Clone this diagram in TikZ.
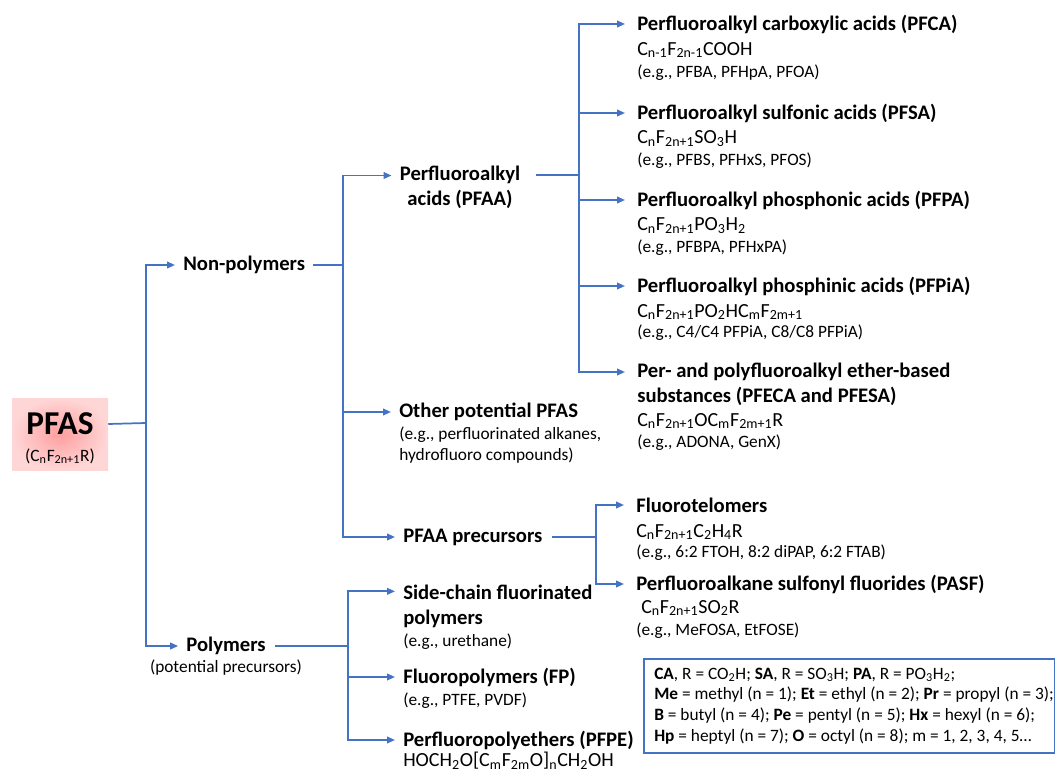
\documentclass[tikz,border=0pt]{standalone}
\usepackage{fontspec}
\setmainfont{Carlito}
\usetikzlibrary{arrows.meta,positioning}
\definecolor{treeblue}{RGB}{68,114,196}
\newcommand{\lo}[1]{\textsubscript{#1}}

\begin{document}
\begin{tikzpicture}[x=0.75pt,y=-0.75pt]
    \tikzstyle{head}=[anchor=west,inner sep=0pt,align=left,font=\fontsize{15.5}{18.8}\selectfont\bfseries]
    \tikzstyle{formula}=[anchor=west,inner sep=0pt,font=\fontsize{15}{18}\selectfont]
    \tikzstyle{eg}=[anchor=west,inner sep=0pt,align=left,font=\fontsize{13}{15.5}\selectfont]
    \tikzstyle{trunk}=[draw=treeblue,line width=1.3pt]
    \tikzstyle{link}=[trunk,-{Triangle[length=6pt,width=5pt]},shorten >=6pt]

    \useasboundingbox (0,0) rectangle (1056,773);

    % Root
    \node[inner sep=0pt,minimum width=72pt,minimum height=54pt,inner color=red!38,outer color=red!16] (pfas) at (60,434) {};
    \node[font=\fontsize{25}{30}\selectfont\bfseries] (pfasname) at (60,424) {PFAS};
    \node[font=\fontsize{13}{16}\selectfont] (pfasformula) at (60,456) {(C\lo{n}F\lo{2n+1}R)};

    % Non-polymers and polymers
    \coordinate (root) at (146,423);
    \node[head] (nonpoly) at (183,265) {Non-polymers};
    \node[head,anchor=center] (poly) at (226,646) {Polymers};
    \node[eg,anchor=center] (polynote) at (226,668) {(potential precursors)};
    \draw[trunk] (pfasname -| pfas.east) -- (root);
    \draw[link] (root) |- (nonpoly);
    \draw[link] (root) |- (poly);

    % Non-polymer classes
    \coordinate (npfork) at (343,265);
    \node[head,anchor=center,align=center] (pfaa) at (460,187) {Perfluoroalkyl\\acids (PFAA)};
    \node[head] (other) at (399,412) {Other potential PFAS};
    \node[eg] (othereg) at (399,445) {(e.g., perfluorinated alkanes,\\hydrofluoro compounds)};
    \node[head] (prec) at (403,537) {PFAA precursors};
    \draw[trunk] ([xshift=6pt]nonpoly.east) -- (npfork);
    \draw[link] (npfork) |- ([yshift=8.6pt]pfaa.west);
    \draw[link] (npfork) |- (other);
    \draw[link] (npfork) |- (prec);

    % Perfluoroalkyl acids
    \coordinate (acidfork) at (579,175);
    \node[head] (pfca) at (637,24) {Perfluoroalkyl carboxylic acids (PFCA)};
    \node[formula] (pfcaf) at (637,50) {C\lo{n-1}F\lo{2n-1}COOH};
    \node[eg] (pfcaeg) at (637,73) {(e.g., PFBA, PFHpA, PFOA)};
    \node[head] (pfsa) at (637,113) {Perfluoroalkyl sulfonic acids (PFSA)};
    \node[formula] (pfsaf) at (637,139) {C\lo{n}F\lo{2n+1}SO\lo{3}H};
    \node[eg] (pfsaeg) at (637,161) {(e.g., PFBS, PFHxS, PFOS)};
    \node[head] (pfpa) at (637,200) {Perfluoroalkyl phosphonic acids (PFPA)};
    \node[formula] (pfpaf) at (637,226) {C\lo{n}F\lo{2n+1}PO\lo{3}H\lo{2}};
    \node[eg] (pfpaeg) at (637,248) {(e.g., PFBPA, PFHxPA)};
    \node[head] (pfpia) at (637,286) {Perfluoroalkyl phosphinic acids (PFPiA)};
    \node[formula] (pfpiaf) at (637,312) {C\lo{n}F\lo{2n+1}PO\lo{2}HC\lo{m}F\lo{2m+1}};
    \node[eg] (pfpiaeg) at (637,333) {(e.g., C4/C4 PFPiA, C8/C8 PFPiA)};
    \node[head] (pfeca) at (637,384) {Per- and polyfluoroalkyl ether-based\\substances (PFECA and PFESA)};
    \node[formula] (pfecaf) at (637,421) {C\lo{n}F\lo{2n+1}OC\lo{m}F\lo{2m+1}R};
    \node[eg] (pfecaeg) at (637,443) {(e.g., ADONA, GenX)};
    \draw[trunk] ([xshift=12pt]pfaa.east |- acidfork) -- (acidfork);
    \draw[link,shorten >=9pt] (acidfork) |- (pfca);
    \draw[link,shorten >=9pt] (acidfork) |- (pfsa);
    \draw[link,shorten >=9pt] (acidfork) |- (pfpa);
    \draw[link,shorten >=9pt] (acidfork) |- (pfpia);
    \draw[link,shorten >=9pt] (acidfork) |- ([yshift=9pt]pfeca.west);

    % PFAA precursors
    \coordinate (precfork) at (596,537);
    \node[head] (ftel) at (636,505) {Fluorotelomers};
    \node[formula] (ftelf) at (636,532) {C\lo{n}F\lo{2n+1}C\lo{2}H\lo{4}R};
    \node[eg] (fteleg) at (636,553) {(e.g., 6:2 FTOH, 8:2 diPAP, 6:2 FTAB)};
    \node[head] (pasf) at (636,584) {Perfluoroalkane sulfonyl fluorides (PASF)};
    \node[formula] (pasff) at (641,608) {C\lo{n}F\lo{2n+1}SO\lo{2}R};
    \node[eg] (pasfeg) at (636,631) {(e.g., MeFOSA, EtFOSE)};
    \draw[trunk] ([xshift=7pt]prec.east) -- (precfork);
    \draw[link,shorten >=9pt] (precfork) |- (ftel);
    \draw[link,shorten >=9pt] (precfork) |- (pasf);

    % Polymer classes
    \coordinate (polyfork) at (348,646);
    \node[head] (side) at (403,606) {Side-chain fluorinated\\polymers};
    \node[eg] (sideeg) at (403,642) {(e.g., urethane)};
    \node[head] (fp) at (403,677) {Fluoropolymers (FP)};
    \node[eg] (fpeg) at (403,701) {(e.g., PTFE, PVDF)};
    \node[head] (pfpe) at (403,740) {Perfluoropolyethers (PFPE)};
    \node[formula] (pfpef) at (403,761) {HOCH\lo{2}O[C\lo{m}F\lo{2m}O]\lo{n}CH\lo{2}OH};
    \draw[trunk] ([xshift=7pt]poly.east) -- (polyfork);
    \draw[link] (polyfork) |- ([yshift=11pt]side.west);
    \draw[link] (polyfork) |- (fp);
    \draw[link] (polyfork) |- (pfpe);

    % Abbreviations
    \node[draw=treeblue,line width=1.2pt,anchor=north west,minimum width=308pt,minimum height=70.5pt] (legend) at (643,658) {};
    \node[eg,font=\fontsize{13}{15.5}\selectfont] (legendtext) at (654,706) {\textbf{CA}, R = CO\lo{2}H; \textbf{SA}, R = SO\lo{3}H; \textbf{PA}, R = PO\lo{3}H\lo{2};\\
        \textbf{Me} = methyl (n = 1); \textbf{Et} = ethyl (n = 2); \textbf{Pr} = propyl (n = 3);\\
        \textbf{B} = butyl (n = 4); \textbf{Pe} = pentyl (n = 5); \textbf{Hx} = hexyl (n = 6);\\
        \textbf{Hp} = heptyl (n = 7); \textbf{O} = octyl (n = 8); m = 1, 2, 3, 4, 5\ldots};

\end{tikzpicture}
\end{document}
